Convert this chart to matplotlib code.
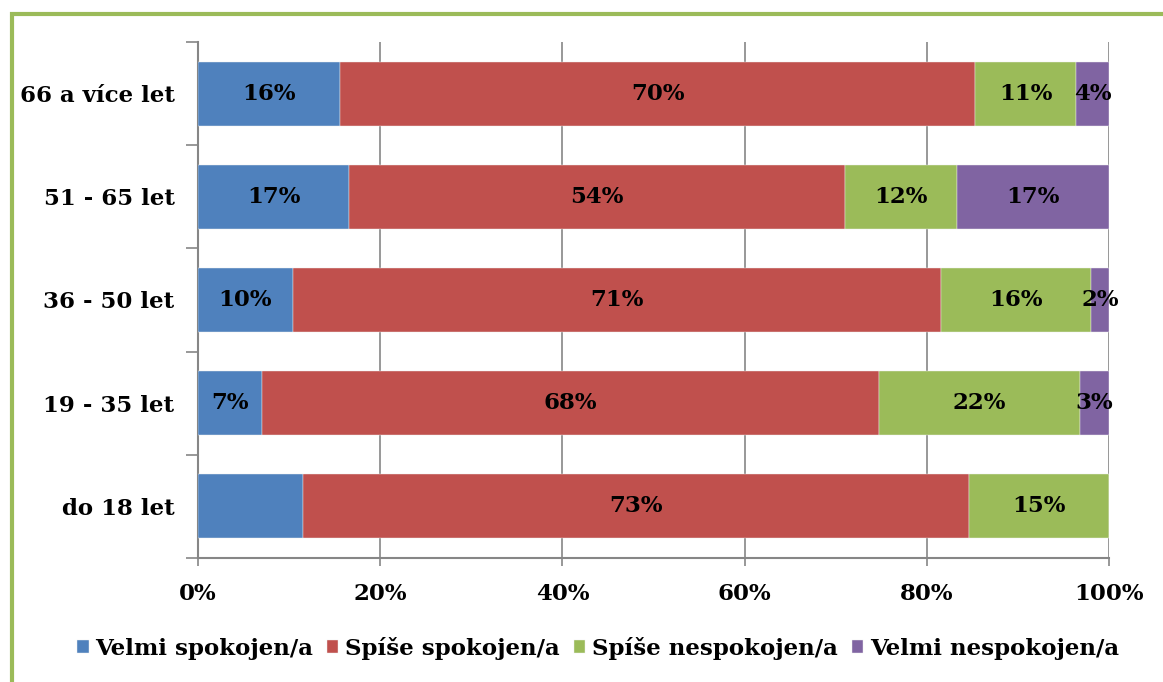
import matplotlib
matplotlib.use("Agg")
import matplotlib.pyplot as plt
from matplotlib.patches import Rectangle
import numpy as np

W, H = 1163, 682
categories = ["do 18 let", "19 - 35 let", "36 - 50 let", "51 - 65 let", "66 a více let"]
series = ["Velmi spokojen/a", "Spíše spokojen/a", "Spíše nespokojen/a", "Velmi nespokojen/a"]
velmi_spokojen = [11.5, 7.0, 10.4, 16.6, 15.6]
spise_spokojen = [73.1, 67.8, 71.2, 54.4, 69.7]
spise_nespokojen = [15.4, 22.0, 16.4, 12.3, 11.1]
velmi_nespokojen = [0.0, 3.2, 2.0, 16.7, 3.6]
labels_velmi_spokojen = ["", "7%", "10%", "17%", "16%"]
labels_spise_spokojen = ["73%", "68%", "71%", "54%", "70%"]
labels_spise_nespokojen = ["15%", "22%", "16%", "12%", "11%"]
labels_velmi_nespokojen = ["", "3%", "2%", "17%", "4%"]
xticks = [0, 20, 40, 60, 80, 100]
xticklabels = ["0%", "20%", "40%", "60%", "80%", "100%"]

colors = ["#4F81BD", "#C0504D", "#9BBB59", "#8064A2"]
FONT = "DejaVu Serif"
FS = 16.5

fig = plt.figure(figsize=(W / 100, H / 100), dpi=100)
ax = fig.add_axes([198 / W, 1 - 558 / H, (1109 - 198) / W, (558 - 42) / H])

y = np.arange(len(categories))
data = [velmi_spokojen, spise_spokojen, spise_nespokojen, velmi_nespokojen]
labs = [labels_velmi_spokojen, labels_spise_spokojen, labels_spise_nespokojen, labels_velmi_nespokojen]
left = np.zeros(len(categories))
for vals, lab, col, name in zip(data, labs, colors, series):
    vals = np.array(vals)
    ax.barh(y, vals, left=left, height=0.62, color=col, label=name,
            edgecolor="#f0f0f0", linewidth=0.3, zorder=3)
    for yi, (l, v, t) in enumerate(zip(left, vals, lab)):
        if t:
            ax.text(l + v / 2, yi, t, ha="center", va="center", fontsize=FS,
                    fontweight="bold", family=FONT, color="black", zorder=4)
    left = left + vals

ax.set_xlim(0, 100)
ax.set_ylim(-0.5, len(categories) - 0.5)
ax.set_xticks(xticks)
ax.set_xticklabels(xticklabels, fontsize=FS, fontweight="bold", family=FONT)
ax.set_yticks(y)
ax.set_yticklabels(categories, fontsize=FS, fontweight="bold", family=FONT)
ax.set_yticks(np.arange(-0.5, len(categories), 1.0), minor=True)
ax.tick_params(axis="y", which="major", length=0, pad=17)
ax.tick_params(axis="y", which="minor", length=9, width=1.2, color="#868686", direction="out")
ax.tick_params(axis="x", which="major", length=6, width=1.2, color="#868686", direction="out", pad=12)
ax.grid(axis="x", color="#868686", linewidth=1.2, zorder=0)
for s in ["top", "right"]:
    ax.spines[s].set_visible(False)
for s in ["left", "bottom"]:
    ax.spines[s].set_color("#868686")
    ax.spines[s].set_linewidth(1.5)

fig.legend(loc="center", bbox_to_anchor=(598 / W, 1 - 648 / H), ncol=4, frameon=False,
           prop={"family": FONT, "weight": "bold", "size": FS},
           handlelength=0.5, handleheight=0.5, handletextpad=0.3, columnspacing=0.6)

border = Rectangle((12 / W, -0.1), 1.2, (H - 14) / H + 0.1, transform=fig.transFigure,
                   fill=False, edgecolor="#9BBB59", linewidth=3, clip_on=False)
fig.patches.append(border)

fig.savefig("out.png", dpi=100)
